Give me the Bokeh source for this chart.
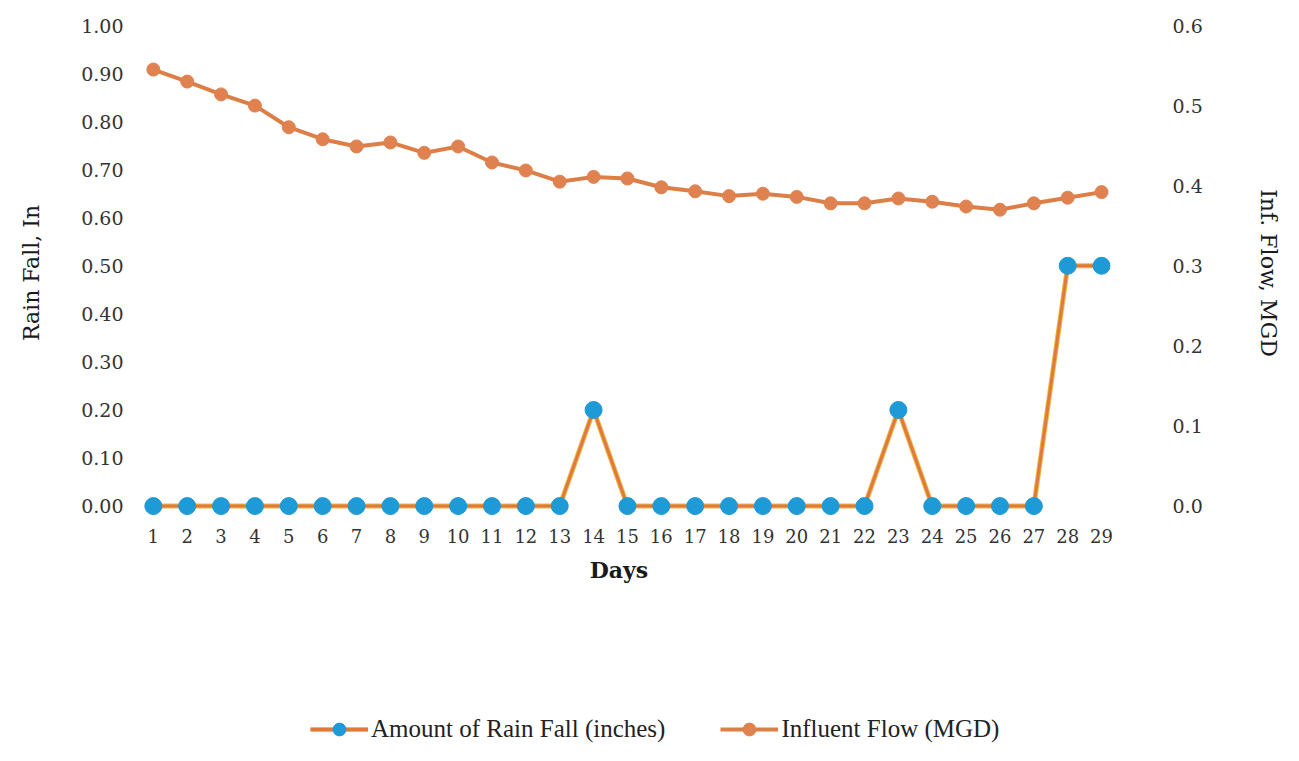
from bokeh.plotting import figure
from bokeh.layouts import column
from bokeh.models import Range1d, LinearAxis, FixedTicker, NumeralTickFormatter, Legend, LegendItem
from bokeh.embed import file_html
from bokeh.resources import INLINE

days = list(range(1, 30))
rain = [0, 0, 0, 0, 0, 0, 0, 0, 0, 0, 0, 0, 0, 0.20, 0, 0, 0, 0, 0, 0, 0, 0, 0.20, 0, 0, 0, 0, 0.50, 0.50]
flow = [0.545, 0.530, 0.514, 0.500, 0.473, 0.458, 0.449, 0.454, 0.441, 0.449,
        0.429, 0.419, 0.405, 0.411, 0.409, 0.398, 0.393, 0.387, 0.390, 0.386,
        0.378, 0.378, 0.384, 0.380, 0.374, 0.370, 0.378, 0.385, 0.392]
left_ticks = [0.0, 0.1, 0.2, 0.3, 0.4, 0.5, 0.6, 0.7, 0.8, 0.9, 1.0]
right_ticks = [0.0, 0.1, 0.2, 0.3, 0.4, 0.5, 0.6]

SERIF = "DejaVu Serif"
RAIN_UNDER, RAIN_LINE, RAIN_PT = "#EDB848", "#E07A3C", "#1E9AD6"
FLOW_LINE, FLOW_PT = "#DC7E45", "#E0824F"
BL, BR = 127, 167

p = figure(width=1283, height=690, output_backend="svg", toolbar_location=None,
           x_range=Range1d(0.2369, 29.264), y_range=Range1d(-0.03, 1.0),
           min_border_left=BL, min_border_right=BR, min_border_top=25, min_border_bottom=170)
p.extra_y_ranges = {"flow": Range1d(-0.018, 0.6)}
p.outline_line_color = None
p.grid.visible = False

def style_axis(ax, size="19px"):
    ax.axis_line_color = None
    ax.major_tick_line_color = None
    ax.minor_tick_line_color = None
    ax.major_tick_out = 0
    ax.major_tick_in = 0
    ax.major_label_text_font = SERIF
    ax.major_label_text_font_size = size
    ax.major_label_text_color = "#333333"
    ax.axis_label_text_font = SERIF
    ax.axis_label_text_font_size = "22px"
    ax.axis_label_text_font_style = "normal"
    ax.axis_label_text_color = "#1a1a1a"

xa = p.xaxis[0]
style_axis(xa, "18px")
xa.ticker = FixedTicker(ticks=days)
xa.major_label_standoff = 8
xa.axis_label = "Days"
xa.axis_label_text_font_style = "bold"
xa.axis_label_standoff = 11

ya = p.yaxis[0]
style_axis(ya)
ya.ticker = FixedTicker(ticks=left_ticks)
ya.formatter = NumeralTickFormatter(format="0.00")
ya.major_label_standoff = 4
ya.axis_label = "Rain Fall, In"
ya.axis_label_standoff = 34

ra = LinearAxis(y_range_name="flow")
style_axis(ra)
ra.ticker = FixedTicker(ticks=right_ticks)
ra.formatter = NumeralTickFormatter(format="0.0")
ra.major_label_standoff = 62
ra.axis_label = "Inf. Flow, MGD"
ra.axis_label_standoff = 50
p.add_layout(ra, "right")

# Rain series
p.line(days, rain, line_color=RAIN_UNDER, line_width=5)
p.line(days, rain, line_color=RAIN_LINE, line_width=3)
p.scatter(days, rain, size=17, fill_color=RAIN_PT, line_color=RAIN_PT)

# Flow series
p.line(days, flow, y_range_name="flow", line_color=FLOW_LINE, line_width=4)
p.scatter(days, flow, y_range_name="flow", size=13, fill_color=FLOW_PT, line_color=FLOW_PT)

# Legend strip below the chart (its renderers use the same data, out of view)
q = figure(width=1283, height=55, output_backend="svg", toolbar_location=None,
           x_range=Range1d(1000, 1001), y_range=Range1d(1000, 1001),
           x_axis_type=None, y_axis_type=None,
           min_border_left=BL, min_border_right=BR, min_border_top=0, min_border_bottom=0)
q.outline_line_color = None
q.grid.visible = False
lr1 = q.line(days, rain, line_color=RAIN_UNDER, line_width=5)
lr2 = q.line(days, rain, line_color=RAIN_LINE, line_width=3)
lr3 = q.scatter(days, rain, size=17, fill_color=RAIN_PT, line_color=RAIN_PT)
lf1 = q.line(days, flow, line_color=FLOW_LINE, line_width=4)
lf2 = q.scatter(days, flow, size=13, fill_color=FLOW_PT, line_color=FLOW_PT)

legend = Legend(items=[
    LegendItem(label="Amount of Rain Fall (inches)", renderers=[lr1, lr2, lr3]),
    LegendItem(label="Influent Flow (MGD)", renderers=[lf1, lf2]),
], location=(310 - BL, 0), orientation="horizontal")
legend.label_text_font = "Liberation Serif"
legend.label_text_font_size = "25px"
legend.label_text_color = "#222222"
legend.glyph_width = 58
legend.glyph_height = 32
legend.label_standoff = 3
legend.spacing = 55
legend.padding = 0
legend.margin = 0
legend.border_line_color = None
legend.background_fill_alpha = 0
q.add_layout(legend, "center")

open("out.html", "w").write(file_html(column(p, q), INLINE))
